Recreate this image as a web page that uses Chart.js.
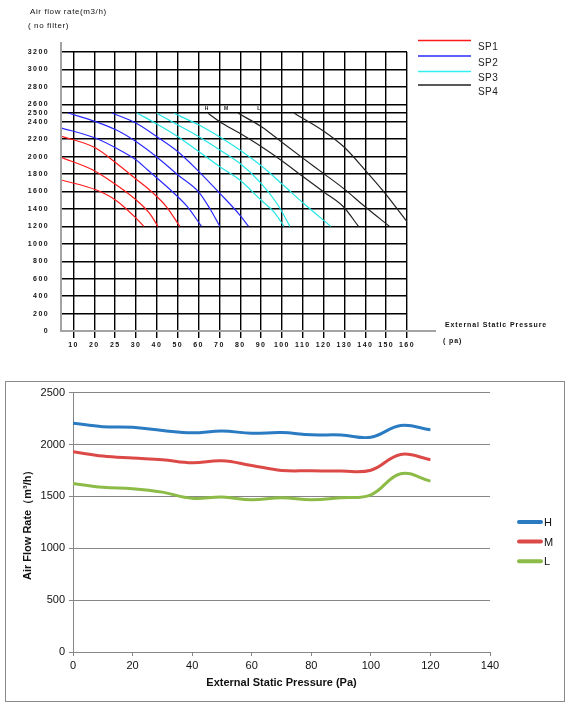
<!DOCTYPE html>
<html lang="en">
<head>
    <meta charset="UTF-8">
    <meta name="viewport" content="width=device-width, initial-scale=1.0">
    <title>Air Flow Rate vs External Static Pressure</title>
    <script src="https://cdn.jsdelivr.net/npm/chart.js"></script>
    <style>
        body {
            margin: 0;
            background: #fff;
            font-family: Arial, "Liberation Sans", sans-serif;
        }
        #fanChart {
            position: absolute;
            left: 0;
            top: 0;
        }
        #box {
            position: absolute;
            left: 5px;
            top: 381px;
            width: 558px;
            height: 319px;
            border: 1px solid #8a8a8a;
        }
        #box canvas {
            display: block;
        }
    </style>
</head>
<body>
    <canvas id="fanChart" width="572" height="360"></canvas>
    <div id="box"><canvas id="rateChart" width="558" height="319"></canvas></div>

    <script>
        // ---- top chart: fan curves (no filter) ----
        const pressureLabels = [10, 20, 25, 30, 40, 50, 60, 70, 80, 90, 100, 110, 120, 130, 140, 150, 160];
        const flowTicks = [0, 200, 400, 600, 800, 1000, 1200, 1400, 1600, 1800, 2000, 2200, 2400, 2500, 2600, 2800, 3000, 3200];

        // [pressure Pa, air flow m3/h]
        const sp1H = [[4, 2236], [20.3, 2099], [25.3, 1923], [30.1, 1740], [36.5, 1617], [44.6, 1425], [51, 1200]];
        const sp1M = [[4, 1992], [19.3, 1846], [25.3, 1674], [30.1, 1502], [36.5, 1350], [40.5, 1200]];
        const sp1L = [[4, 1732], [20.5, 1617], [25.3, 1495], [30.1, 1292], [33.7, 1200]];
        const sp2H = [[4, 2331], [20.4, 2210], [25.3, 2095], [30.1, 1961], [35.6, 1846], [47.6, 1594], [54.8, 1422], [61.4, 1200]];
        const sp2M = [[7.5, 2500], [20.4, 2400], [25.3, 2305], [30.1, 2171], [39.8, 1999], [50.1, 1789], [60.1, 1594], [65.4, 1405], [70.2, 1200]];
        const sp2L = [[24.3, 2500], [30.1, 2382], [40, 2228], [50.1, 2056], [60.4, 1823], [70.2, 1579], [79.8, 1330], [84, 1200]];
        const sp3H = [[30.4, 2500], [40, 2374], [50.1, 2228], [60.2, 2056], [70.2, 1884], [79.8, 1732], [89.9, 1502], [96.6, 1353], [101, 1200]];
        const sp3M = [[40, 2497], [50.1, 2362], [60.2, 2228], [70.2, 2076], [79.8, 1923], [89.9, 1697], [98.1, 1445], [103.8, 1200]];
        const sp3L = [[48.1, 2497], [60.2, 2362], [70.2, 2225], [79.8, 2076], [90.2, 1892], [100.6, 1674], [110.2, 1468], [123.4, 1200]];
        const sp4H = [[64.6, 2497], [70.2, 2400], [79.8, 2267], [90.2, 2113], [100.6, 1942], [110.2, 1769], [119.9, 1597], [129.5, 1425], [136.7, 1200]];
        const sp4M = [[79, 2497], [90.2, 2343], [100.6, 2153], [110.2, 1980], [119.9, 1808], [129.5, 1636], [139.9, 1425], [151.6, 1200]];
        const sp4L = [[105.9, 2497], [119.9, 2294], [129.8, 2110], [139.9, 1846], [149.5, 1579], [160, 1253]];

        const legendNames = ['SP1', 'SP2', 'SP3', 'SP4'];
        const speedMarks = ['H', 'M', 'L'];
        const speedMarkX = [63.8, 73.2, 88.9];
        const speedMarkY = 2554;

        const spColors = ['#ff1a1a', '#2a2aff', '#22e6e6', '#222222'];
        const groups = [[sp1H, sp1M, sp1L], [sp2H, sp2M, sp2L], [sp3H, sp3M, sp3L], [sp4H, sp4M, sp4L]];

        // pressure axis is not linear: every label gets the same width
        function paToPos(v) {
            const t = pressureLabels;
            const n = t.length - 1;
            if (v <= t[1]) return (v - t[0]) / (t[1] - t[0]);
            for (let i = 1; i < n; i++) {
                if (v <= t[i + 1]) return i + (v - t[i]) / (t[i + 1] - t[i]);
            }
            return n + (v - t[n]) / (t[n] - t[n - 1]);
        }
        function posToPa(p) {
            const t = pressureLabels;
            const n = t.length - 1;
            if (p <= 1) return t[0] + p * (t[1] - t[0]);
            if (p >= n) return t[n] + (p - n) * (t[n] - t[n - 1]);
            const i = Math.floor(p);
            return t[i] + (p - i) * (t[i + 1] - t[i]);
        }

        class PressureScale extends Chart.LinearScale {
            getPixelForValue(value) {
                const a = paToPos(this.min), b = paToPos(this.max);
                return this.getPixelForDecimal((paToPos(value) - a) / (b - a));
            }
            getValueForPixel(pixel) {
                const a = paToPos(this.min), b = paToPos(this.max);
                return posToPa(a + this.getDecimalForPixel(pixel) * (b - a));
            }
        }
        PressureScale.id = 'pressure';
        PressureScale.defaults = Chart.LinearScale.defaults;
        Chart.register(PressureScale);

        const smallFont = { family: 'Arial', size: 7, weight: 'bold' };

        const topDecor = {
            id: 'topDecor',
            beforeDraw(chart) {
                chart.ctx.letterSpacing = '1.4px';
            },
            afterDraw(chart) {
                const { ctx, chartArea: a, scales: { x, y } } = chart;
                ctx.save();
                ctx.strokeStyle = '#a3a3a3';
                ctx.lineWidth = 2;
                ctx.beginPath();
                ctx.moveTo(a.left, a.top - 10);
                ctx.lineTo(a.left, a.bottom);
                ctx.lineTo(a.right + 29, a.bottom);
                ctx.stroke();

                ctx.fillStyle = '#222';
                ctx.letterSpacing = '0px';
                ctx.font = 'bold 5px Arial';
                ctx.textAlign = 'center';
                ctx.textBaseline = 'middle';
                speedMarks.forEach((m, i) => {
                    ctx.fillText(m, x.getPixelForValue(speedMarkX[i]), y.getPixelForValue(speedMarkY));
                });

                // legend: line above each name
                ctx.textAlign = 'left';
                ctx.font = '10px Arial';
                ctx.letterSpacing = '0.4px';
                const lineY = [40.5, 56, 71.5, 85];
                const textY = [47, 63.5, 78.5, 92];
                legendNames.forEach((n, i) => {
                    ctx.strokeStyle = spColors[i] === '#22e6e6' ? '#33f0f0' : spColors[i];
                    ctx.lineWidth = 1.3;
                    ctx.beginPath();
                    ctx.moveTo(418, lineY[i]);
                    ctx.lineTo(471, lineY[i]);
                    ctx.stroke();
                    ctx.fillStyle = '#222';
                    ctx.fillText(n, 478, textY[i]);
                });

                ctx.fillStyle = '#111';
                ctx.font = '8px Arial';
                ctx.letterSpacing = '0.6px';
                ctx.fillText('Air flow rate(m3/h)', 30, 12);
                ctx.fillText('( no filter)', 28, 26);

                ctx.font = 'bold 7px Arial';
                ctx.letterSpacing = '0.9px';
                ctx.fillText('External Static Pressure', 445, 325);
                ctx.fillText('( pa)', 443, 341);
                ctx.restore();
            }
        };

        new Chart(document.getElementById('fanChart'), {
            type: 'line',
            data: {
                datasets: groups.flatMap((g, i) => g.map((pts, j) => ({
                    label: legendNames[i] + ' ' + speedMarks[j],
                    data: pts.map(p => ({ x: p[0], y: p[1] })),
                    borderColor: spColors[i],
                    borderWidth: 1.2,
                    pointRadius: 0,
                    cubicInterpolationMode: 'monotone',
                    fill: false
                })))
            },
            options: {
                responsive: false,
                animation: false,
                layout: { padding: { top: 52, right: 165, left: 0, bottom: 0 } },
                plugins: {
                    legend: { display: false },
                    tooltip: { enabled: false }
                },
                scales: {
                    x: {
                        type: 'pressure',
                        min: 4,
                        max: 160,
                        afterBuildTicks: s => { s.ticks = pressureLabels.map(v => ({ value: v })); },
                        afterFit: s => { s.height = 29; },
                        grid: { color: '#000', lineWidth: 1.4, tickLength: 7 },
                        border: { display: false },
                        ticks: {
                            autoSkip: false,
                            maxRotation: 0,
                            padding: 3,
                            color: '#111',
                            font: smallFont,
                            callback: v => String(v)
                        }
                    },
                    y: {
                        min: 0,
                        max: 3200,
                        afterBuildTicks: s => { s.ticks = flowTicks.map(v => ({ value: v })); },
                        afterFit: s => { s.width = 61; },
                        grid: { color: '#000', lineWidth: 1.4, drawTicks: false },
                        border: { display: false },
                        ticks: {
                            padding: 12,
                            color: '#111',
                            font: smallFont,
                            callback: v => String(v)
                        }
                    }
                }
            },
            plugins: [topDecor]
        });

        // ---- bottom chart: measured flow ----
        const pressure = [0, 10, 20, 30, 40, 50, 60, 70, 80, 90, 100, 110, 120];
        const flowH = [2205, 2172, 2165, 2135, 2112, 2130, 2108, 2115, 2093, 2092, 2070, 2183, 2141];
        const flowM = [1930, 1888, 1869, 1853, 1824, 1843, 1798, 1750, 1747, 1744, 1752, 1904, 1853];
        const flowL = [1625, 1587, 1574, 1541, 1481, 1493, 1468, 1487, 1468, 1487, 1515, 1718, 1647];
        const speedNames = ['H', 'M', 'L'];
        const rateColors = ['#2a7bc2', '#dc4a48', '#8cbb48'];
        const flows = [flowH, flowM, flowL];

        const axisGray = '#868686';
        const tickFont = { family: 'Arial', size: 11 };
        const titleFont = { family: 'Arial', size: 11, weight: 'bold' };

        const rateLegend = {
            id: 'rateLegend',
            afterDraw(chart) {
                const ctx = chart.ctx;
                ctx.save();
                ctx.font = '11px Arial';
                ctx.textBaseline = 'middle';
                ctx.lineCap = 'round';
                chart.data.datasets.forEach((ds, i) => {
                    const yy = 140 + i * 19.6;
                    ctx.strokeStyle = ds.borderColor;
                    ctx.lineWidth = 4;
                    ctx.beginPath();
                    ctx.moveTo(513, yy);
                    ctx.lineTo(535, yy);
                    ctx.stroke();
                    ctx.fillStyle = '#111';
                    ctx.fillText(ds.label, 538, yy + 1);
                });
                ctx.restore();
            }
        };

        new Chart(document.getElementById('rateChart'), {
            type: 'line',
            data: {
                datasets: speedNames.map((n, i) => ({
                    label: n,
                    data: pressure.map((p, k) => ({ x: p, y: flows[i][k] })),
                    borderColor: rateColors[i],
                    borderWidth: 3,
                    pointRadius: 0,
                    tension: 0.4,
                    fill: false
                }))
            },
            options: {
                responsive: false,
                animation: false,
                layout: { padding: { top: 10, right: 74, left: 0, bottom: 0 } },
                plugins: {
                    legend: { display: false },
                    tooltip: { enabled: false }
                },
                scales: {
                    x: {
                        type: 'linear',
                        min: 0,
                        max: 140,
                        afterFit: s => { s.height = 49; },
                        ticks: { stepSize: 20, padding: 3, color: '#111', font: tickFont, maxRotation: 0, callback: v => String(v) },
                        grid: { drawOnChartArea: false, color: axisGray, tickLength: 4 },
                        border: { color: axisGray, width: 1 },
                        title: {
                            display: true,
                            text: 'External Static Pressure (Pa)',
                            color: '#111',
                            font: titleFont,
                            padding: { top: 0, bottom: 11 }
                        }
                    },
                    y: {
                        min: 0,
                        max: 2500,
                        afterFit: s => { s.width = 67; },
                        ticks: { stepSize: 500, padding: 4, color: '#111', font: tickFont, callback: v => String(v) },
                        grid: { color: axisGray, tickLength: 4 },
                        border: { color: axisGray, width: 1 },
                        title: {
                            display: true,
                            text: 'Air Flow Rate（m³/h）',
                            color: '#111',
                            font: titleFont,
                            padding: { top: 15, bottom: 0 }
                        }
                    }
                }
            },
            plugins: [rateLegend]
        });
    </script>
</body>
</html>
